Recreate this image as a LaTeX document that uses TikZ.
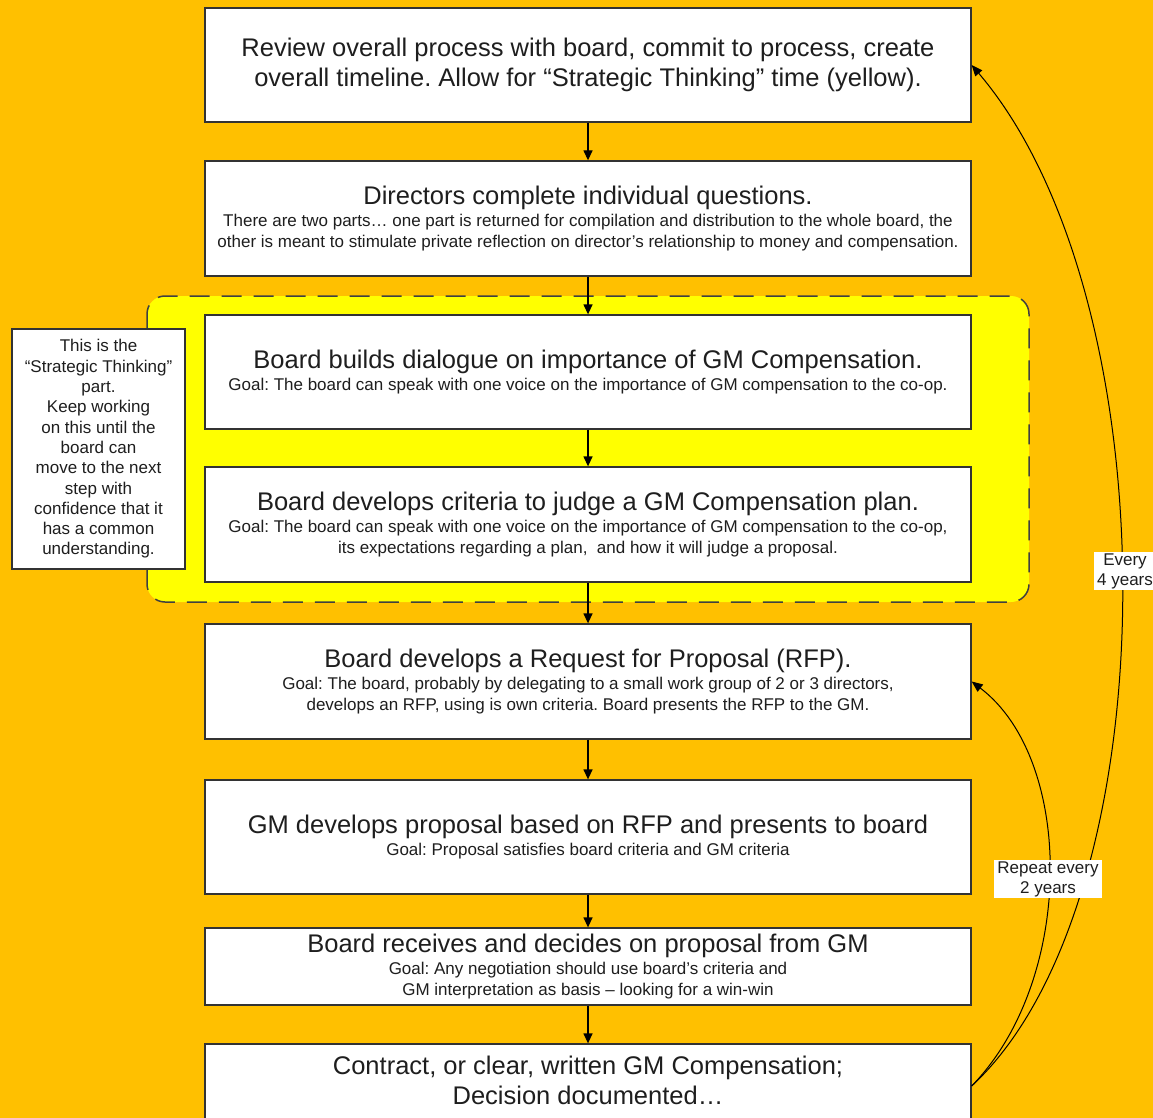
\documentclass[tikz,border=0pt]{standalone}
\usepackage{fontspec}
\setmainfont{Liberation Sans}
\usetikzlibrary{arrows.meta}
\definecolor{bgorange}{HTML}{FFC000}
\definecolor{hlyellow}{HTML}{FFFF00}
\definecolor{edgegray}{HTML}{333333}
\definecolor{inkgray}{HTML}{1E1E1E}
\frenchspacing
\begin{document}
\frenchspacing
\begin{tikzpicture}[x=1pt,y=-1pt,
  stepbox/.style={draw=edgegray, line width=1.3pt, fill=white, minimum width=766pt,
    minimum height=114pt, inner sep=0pt, align=center, text=inkgray,
    font=\fontsize{17}{21}\selectfont\frenchspacing},
  bigtitle/.style={font=\fontsize{25.5}{30}\selectfont\frenchspacing},
  flow/.style={-{Triangle[length=10pt,width=9pt]}, line width=1.3pt, draw=black},
  loopline/.style={-{Triangle[length=11pt,width=9pt]}, line width=1pt, draw=black},
  lbl/.style={fill=white, inner xsep=3pt, inner ysep=1pt, align=center, text=inkgray,
    font=\fontsize{17}{20}\selectfont},
  notebox/.style={draw=edgegray, line width=1.2pt, fill=white, minimum width=173pt,
    minimum height=240pt, inner sep=0pt, align=center, text=inkgray,
    font=\fontsize{17}{20.3}\selectfont},
  zone/.style={fill=hlyellow, draw=black!75, line width=1.5pt, dash pattern=on 20pt off 12pt,
    rounded corners=18pt}
]
\useasboundingbox (0,0) rectangle (1153,1118);
\fill[bgorange] (0,0) rectangle (1153,1118);

% strategic thinking zone
\path[zone] (147,296) rectangle (1029,602);

% boxes
\node[stepbox, bigtitle] (b1) at (588,65)
  {Review overall process with board, commit to process, create\\
   overall timeline. Allow for “Strategic Thinking” time (yellow).};
\node[stepbox, minimum height=115pt] (b2) at (588,218.5)
  {{\fontsize{25.5}{30}\selectfont Directors complete individual questions.}\\[1pt]
   There are two parts… one part is returned for compilation and distribution to the whole board, the\\
   other is meant to stimulate private reflection on director’s relationship to money and compensation.};
\node[stepbox] (b3) at (588,372)
  {{\fontsize{25.5}{30}\selectfont Board builds dialogue on importance of GM Compensation.}\\[1pt]
   Goal: The board can speak with one voice on the importance of GM compensation to the co-op.};
\node[stepbox, minimum height=115pt] (b4) at (588,524.5)
  {{\fontsize{25.5}{30}\selectfont Board develops criteria to judge a GM Compensation plan.}\\[1pt]
   Goal: The board can speak with one voice on the importance of GM compensation to the co-op,\\
   its expectations regarding a plan,\ \ and how it will judge a proposal.};
\node[stepbox, minimum height=115pt] (b5) at (588,681.5)
  {{\fontsize{25.5}{30}\selectfont Board develops a Request for Proposal (RFP).}\\[1pt]
   Goal: The board, probably by delegating to a small work group of 2 or 3 directors,\\
   develops an RFP, using is own criteria. Board presents the RFP to the GM.};
\node[stepbox] (b6) at (588,837)
  {{\fontsize{25.5}{30}\selectfont GM develops proposal based on RFP and presents to board}\\[1pt]
   Goal: Proposal satisfies board criteria and GM criteria};
\node[stepbox, minimum height=77pt] (b7) at (588,966.5)
  {{\fontsize{25.5}{30}\selectfont Board receives and decides on proposal from GM}\\[1pt]
   Goal: Any negotiation should use board’s criteria and\\
   GM interpretation as basis – looking for a win-win};
\node[stepbox, bigtitle, minimum height=84pt, text depth=12pt] (b8) at (588,1086)
  {Contract, or clear, written GM Compensation;\\
   Decision documented…};

% side note
\node[notebox] (note) at (98.5,449)
  {This is the\\ “Strategic Thinking”\\ part.\\ Keep working\\ on this until the\\
   board can\\ move to the next\\ step with\\ confidence that it\\ has a common\\ understanding.};

% main flow
\draw[flow] (b1.south) -- (b2.north);
\draw[flow] (b2.south) -- (b3.north);
\draw[flow] (b3.south) -- (b4.north);
\draw[flow] (b4.south) -- (b5.north);
\draw[flow] (b5.south) -- (b6.north);
\draw[flow] (b6.south) -- (b7.north);
\draw[flow] (b7.south) -- (b8.north);

% loops
\draw[loopline] (b8.east) .. controls (1172,900) and (1172,300) .. (b1.east);
\draw[loopline] (b8.east) .. controls (1075,980) and (1075,760) .. (b5.east);

\node[lbl] (l4) at (1125,571) {Every\\4 years};
\node[lbl] (l2) at (1048,879) {Repeat every\\2 years};
\end{tikzpicture}
\end{document}
